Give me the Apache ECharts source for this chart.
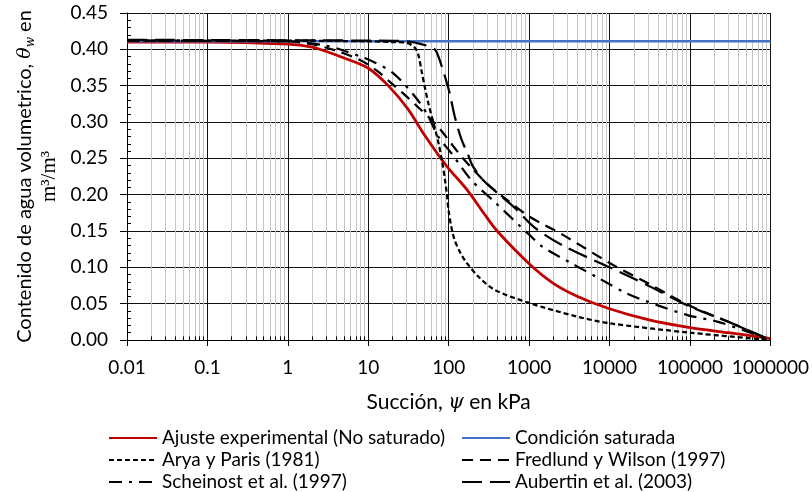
<!DOCTYPE html>
<html>
<head>
<meta charset="utf-8">
<script src="https://cdn.jsdelivr.net/npm/echarts@6/dist/echarts.min.js"></script>
<style>
html,body{margin:0;padding:0;background:#fff;}
#c{width:812px;height:492px;}
</style>
</head>
<body>
<div id="c"></div>
<script>
// ---- Data ----
const xTickLabels = ['0.01','0.1','1','10','100','1000','10000','100000','1000000'];
const yTickLabels = ['0.00','0.05','0.10','0.15','0.20','0.25','0.30','0.35','0.40','0.45'];

const seriesNames = ['Ajuste experimental (No saturado)','Condición saturada','Arya y Paris (1981)','Fredlund y Wilson (1997)','Scheinost et al. (1997)','Aubertin et al. (2003)'];

const ajusteX = [0.01,0.1,1,2,3.2,5,10,17.7,31,50,74,100,174,279,400,1000,2000,4000,10000,30000,100000,300000,1000000];
const ajusteY = [0.410,0.410,0.407,0.403,0.396,0.388,0.374,0.350,0.318,0.282,0.255,0.236,0.205,0.173,0.150,0.105,0.078,0.060,0.043,0.028,0.017,0.010,0.002];

const saturadaX = [0.01,1000000];
const saturadaY = [0.411,0.411];

const aryaX = [0.01,1,10,20,30,38,42,46,50,56,65,75,83,90,95,100,108,118,135,158,230,372,1000,4000,10000,100000,1000000];
const aryaY = [0.412,0.412,0.411,0.410,0.409,0.402,0.392,0.370,0.350,0.325,0.298,0.270,0.245,0.220,0.200,0.177,0.155,0.138,0.123,0.110,0.088,0.069,0.051,0.032,0.023,0.010,0.000];

const fredlundX = [0.01,1,2,4,8,13,20,28,42,61,81,108,150,200,300,500,1000,2600,10000,30000,100000,300000,1000000];
const fredlundY = [0.412,0.411,0.407,0.398,0.385,0.370,0.352,0.338,0.320,0.303,0.288,0.270,0.250,0.235,0.215,0.195,0.170,0.145,0.106,0.078,0.047,0.025,0.000];

const scheinostX = [0.01,1,3,5,11,21,40,55,74,108,191,372,1000,1480,3300,7350,16400,39000,95000,224000,500000,1000000];
const scheinostY = [0.412,0.411,0.405,0.398,0.384,0.366,0.332,0.309,0.280,0.257,0.220,0.190,0.145,0.128,0.106,0.085,0.064,0.048,0.034,0.025,0.012,0.000];

const aubertinX = [0.01,10,30,50,67,74,89,102,118,143,174,200,279,447,660,1160,2720,10000,30000,100000,300000,1000000];
const aubertinY = [0.413,0.412,0.411,0.406,0.400,0.391,0.364,0.341,0.309,0.277,0.255,0.239,0.218,0.198,0.182,0.155,0.129,0.100,0.075,0.046,0.025,0.000];

// ---- helpers ----
function pairs(xs, ys){ return xs.map((x,i)=>[x, ys[i]]); }
const minorX = [];
for (let d = -2; d < 6; d++) { for (let k = 2; k <= 9; k++) { minorX.push(k * Math.pow(10, d)); } }

const FONT = 'Lato';
const chart = echarts.init(document.getElementById('c'), null, {renderer:'canvas'});

function lineSeries(name, data, color, width, type, z){
  return {
    name: name, type: 'line', data: data, showSymbol: false, symbol: 'none',
    smooth: 0.3, silent: true, z: z,
    lineStyle: {color: color, width: width, type: type, cap: 'butt'},
    itemStyle: {color: color}
  };
}

function makeLegend(left, names){
  return {
    orient: 'vertical', left: left, top: 423, height: 120, itemWidth: 48, itemHeight: 14, itemGap: 2,
    itemStyle: {opacity: 0},
    textStyle: {fontFamily: FONT, fontSize: 19, lineHeight: 20, color: '#000'},
    data: names
  };
}

const option = {
  animation: false,
  backgroundColor: '#fff',
  textStyle: {fontFamily: FONT},
  grid: {left: 127, right: 38, top: 13, bottom: 152, containLabel: false},
  xAxis: {
    type: 'log', logBase: 10, min: 0.01, max: 1000000, splitNumber: 8,
    axisLine: {show: true, onZero: false, lineStyle: {color: '#000', width: 1}},
    axisTick: {show: true, length: 6, lineStyle: {color: '#000'}},
    axisLabel: {
      color: '#000', fontSize: 19, fontFamily: FONT, margin: 18,
      formatter: function(v){ const i = Math.round(Math.log10(v)) + 2; return xTickLabels[i] || ''; }
    },
    splitLine: {show: true, lineStyle: {color: '#111', width: 1}},
    name: '{a|Succión, }{p|ψ}{a| en kPa}',
    nameLocation: 'middle', nameGap: 52,
    nameTextStyle: {
      rich: {
        a: {fontFamily: FONT, fontSize: 21, color: '#000'},
        p: {fontFamily: 'DejaVu Serif', fontStyle: 'italic', fontSize: 20, color: '#000'}
      }
    }
  },
  yAxis: [{
    type: 'value', min: 0, max: 0.45, interval: 0.05,
    axisLine: {show: true, lineStyle: {color: '#000', width: 1}},
    axisTick: {show: true, length: 7, lineStyle: {color: '#000'}},
    axisLabel: {
      color: '#000', fontSize: 19, fontFamily: FONT, margin: 19,
      formatter: function(v){ const i = Math.round(v / 0.05); return yTickLabels[i] || ''; }
    },
    splitLine: {show: true, lineStyle: {color: '#111', width: 1}},
    name: '{a|Contenido de agua volumetrico, }{t|θ}{s|w}{a| en}\n{m|m³/m³}',
    nameLocation: 'middle', nameGap: 66, nameRotate: 90,
    nameTextStyle: {
      align: 'center',
      rich: {
        a: {fontFamily: FONT, fontSize: 20, color: '#000', lineHeight: 24},
        t: {fontFamily: 'DejaVu Serif', fontStyle: 'italic', fontSize: 19, color: '#000', lineHeight: 24},
        s: {fontFamily: 'DejaVu Serif', fontStyle: 'italic', fontSize: 12, color: '#000', lineHeight: 24, verticalAlign: 'bottom'},
        m: {fontFamily: 'Liberation Serif', fontSize: 21, color: '#000', lineHeight: 24}
      }
    }
  },{
    type: 'value', min: 0, max: 0.45, interval: 0.05, position: 'left',
    axisLine: {show: false}, axisLabel: {show: false}, splitLine: {show: false},
    axisTick: {show: false, inside: true},
    minorTick: {show: true, splitNumber: 5, length: 4, lineStyle: {color: '#000', width: 1}}
  }],
  legend: [
    makeLegend(103, [seriesNames[0], seriesNames[2], seriesNames[4]]),
    makeLegend(456, [seriesNames[1], seriesNames[3], seriesNames[5]])
  ],
  series: [
    {
      name: 'minor', type: 'line', data: [], silent: true, z: 1,
      markLine: {
        silent: true, symbol: ['none','none'], label: {show: false},
        lineStyle: {color: '#c6c6c6', width: 1, type: 'solid'},
        data: minorX.map(v => ({xAxis: v}))
      }
    },
    {
      name: 'minorTicks', type: 'line', data: [], silent: true, z: 3,
      markLine: {
        silent: true, symbol: ['none','none'], label: {show: false},
        lineStyle: {color: '#000', width: 1, type: 'solid'},
        data: minorX.map(v => [{coord: [v, 0]}, {coord: [v, 0.005]}])
      }
    },
    lineSeries(seriesNames[0], pairs(ajusteX, ajusteY), '#C00000', 2.75, 'solid', 5),
    lineSeries(seriesNames[1], pairs(saturadaX, saturadaY), '#4472C4', 2.5, 'solid', 5),
    lineSeries(seriesNames[2], pairs(aryaX, aryaY), '#000', 2.25, [5,3], 6),
    lineSeries(seriesNames[3], pairs(fredlundX, fredlundY), '#000', 2.25, [11,7], 6),
    lineSeries(seriesNames[4], pairs(scheinostX, scheinostY), '#000', 2.25, [13,7,3,7], 6),
    lineSeries(seriesNames[5], pairs(aubertinX, aubertinY), '#000', 2.25, [20,8], 6)
  ]
};
chart.setOption(option);
</script>
</body>
</html>
